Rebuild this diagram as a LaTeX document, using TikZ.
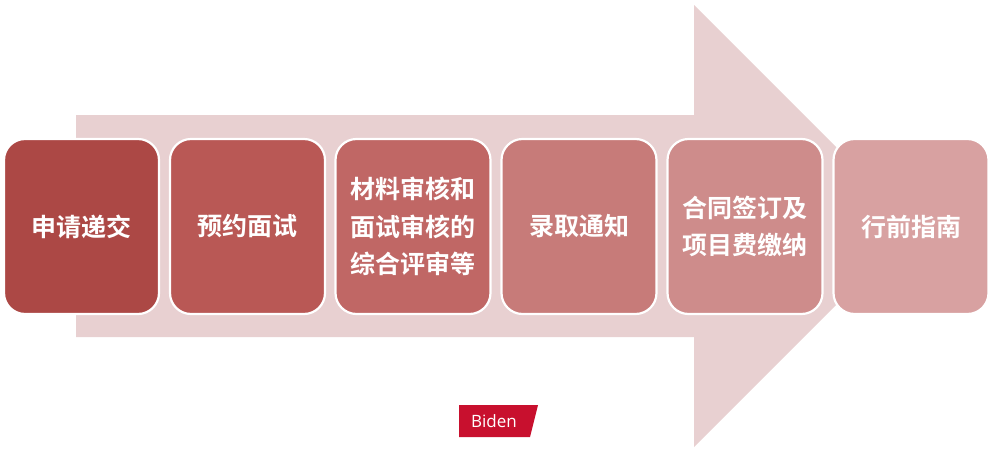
\documentclass[tikz,border=0pt]{standalone}
\usepackage{fontspec}
\setmainfont{Liberation Sans}
\newfontfamily\cjk{Noto Sans CJK SC}[BoldFont={* Bold}]
\newfontfamily\lbl{Open Sans}
\definecolor{arrowc}{HTML}{E8D0D1}
\definecolor{c1}{HTML}{AC4845}
\definecolor{c2}{HTML}{B95855}
\definecolor{c3}{HTML}{C06765}
\definecolor{c4}{HTML}{C77B79}
\definecolor{c5}{HTML}{CE8C8B}
\definecolor{c6}{HTML}{D8A1A1}
\definecolor{tagred}{HTML}{C8102E}
\tikzset{
  stepbox/.style={draw=white, line width=2.2pt, rounded corners=21pt, minimum width=155pt, minimum height=175pt, inner sep=0pt,
    text=white, align=center, font=\cjk\bfseries\fontsize{25}{37.5}\selectfont},
}
\begin{document}
\begin{tikzpicture}[x=1pt,y=-1pt]
\useasboundingbox (0,0) rectangle (994,453);
% big arrow
\fill[arrowc] (76,115) -- (694,115) -- (694,5) -- (915,226) -- (694,447) -- (694,337) -- (76,337) -- cycle;
% boxes
\node[stepbox, fill=c1] (s1) at (81.5,226.5) {申请递交};
\node[stepbox, fill=c2] (s2) at (247.5,226.5) {预约面试};
\node[stepbox, fill=c3] (s3) at (413,226.5) {材料审核和\\面试审核的\\综合评审等};
\node[stepbox, fill=c4] (s4) at (579,226.5) {录取通知};
\node[stepbox, fill=c5] (s5) at (745,226.5) {合同签订及\\项目费缴纳};
\node[stepbox, fill=c6] (s6) at (911,226.5) {行前指南};
% tag
\fill[tagred] (459,405) -- (538,405) -- (530,437) -- (459,437) -- cycle;
\node[text=white, font=\lbl\fontsize{17}{19}\selectfont, inner sep=0pt] (tag) at (494,421) {Biden};
\end{tikzpicture}
\end{document}
